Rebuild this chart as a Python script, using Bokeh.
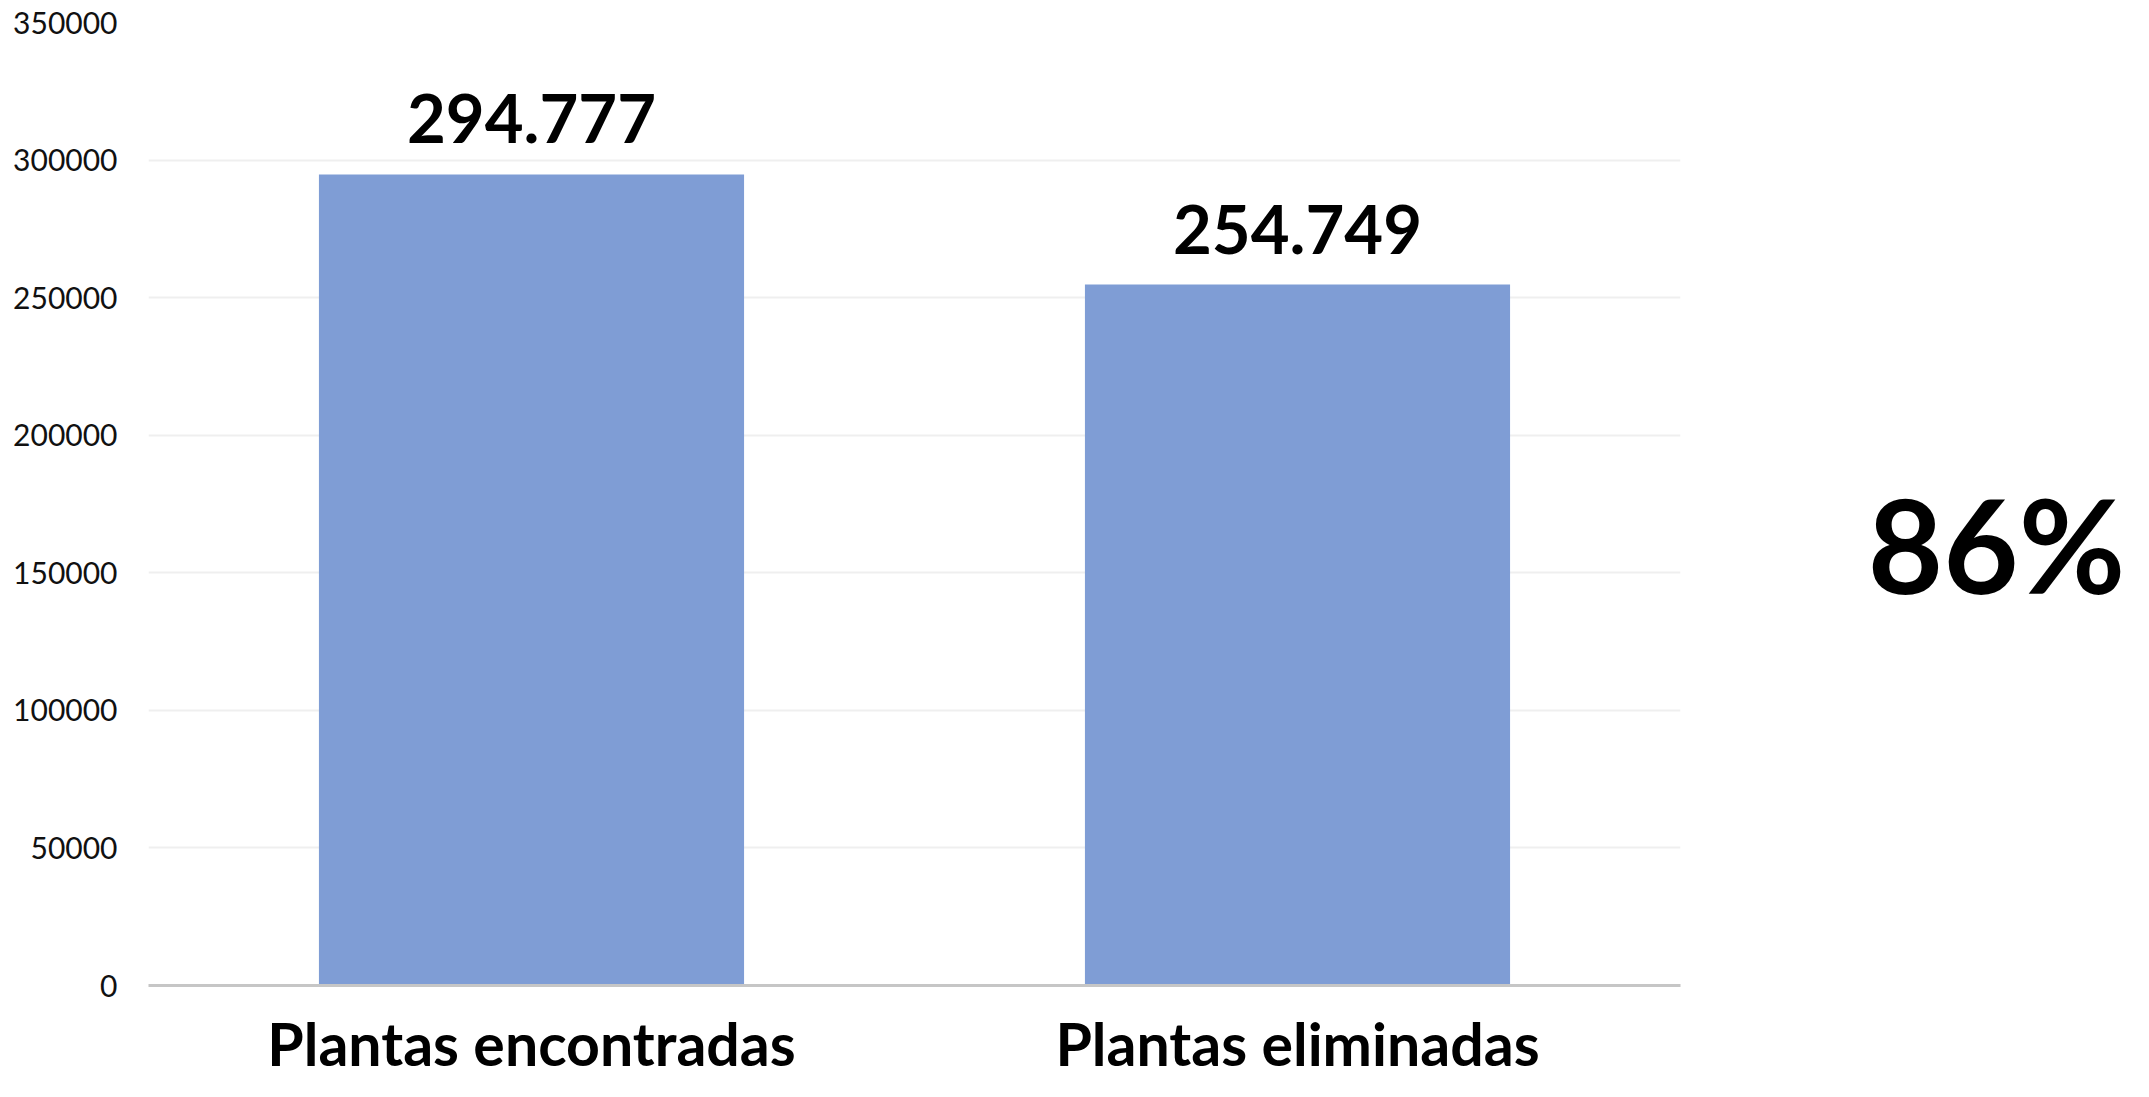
from bokeh.plotting import figure
from bokeh.layouts import row
from bokeh.models import (ColumnDataSource, Range1d, FactorRange, FixedTicker,
                          BasicTickFormatter, LabelSet)
from bokeh.core.properties import value
from bokeh.embed import file_html
from bokeh.resources import INLINE

categories = ["Plantas encontradas", "Plantas eliminadas"]
values = [294777, 254749]
value_labels = ["294.777", "254.749"]
y_ticks = [0, 50000, 100000, 150000, 200000, 250000, 300000, 350000]
ratio_text = ["86%"]

FONT = "Lato"
BAR_COLOR = "#7F9DD5"
H = 1081

src = ColumnDataSource(dict(cat=categories, val=values, lab=value_labels))

p = figure(x_range=FactorRange(*categories), y_range=Range1d(0, 350000),
           width=1682, height=H, output_backend="svg", toolbar_location=None,
           min_border_left=148, min_border_right=2, min_border_top=22,
           min_border_bottom=91)
p.outline_line_color = None
p.background_fill_color = "white"
p.border_fill_color = "white"

p.vbar(x="cat", top="val", width=0.555, source=src, fill_color=BAR_COLOR,
       line_color=None)

labels = LabelSet(x="cat", y="val", text="lab", source=src, y_offset=31,
                  text_align="center", text_baseline="alphabetic",
                  text_font=value(FONT), text_font_style="bold",
                  text_font_size="67px", text_color="black")
p.add_layout(labels)

# y axis
p.yaxis.ticker = FixedTicker(ticks=y_ticks)
p.yaxis.formatter = BasicTickFormatter(use_scientific=False)
p.yaxis.axis_line_color = None
p.yaxis.major_tick_line_color = None
p.yaxis.minor_tick_line_color = None
p.yaxis.major_label_text_font = FONT
p.yaxis.major_label_text_font_size = "30px"
p.yaxis.major_label_text_color = "#111111"
p.yaxis.major_label_standoff = 25

# x axis
p.xaxis.axis_line_color = "#c6c6c6"
p.xaxis.axis_line_width = 3
p.xaxis.major_tick_line_color = None
p.xaxis.minor_tick_line_color = None
p.xaxis.major_label_text_font = FONT
p.xaxis.major_label_text_font_style = "bold"
p.xaxis.major_label_text_font_size = "59px"
p.xaxis.major_label_text_color = "black"
p.xaxis.major_label_standoff = 16

p.xgrid.grid_line_color = None
p.ygrid.grid_line_color = "#efefef"
p.ygrid.grid_line_width = 2

# side panel with the percentage
p2 = figure(width=2133 - 1682, height=H, x_range=Range1d(0, 2133 - 1682),
            y_range=Range1d(0, H), output_backend="svg", toolbar_location=None,
            min_border=0)
p2.axis.visible = False
p2.grid.grid_line_color = None
p2.outline_line_color = None
p2.background_fill_color = "white"
p2.border_fill_color = "white"
p2.text(x=[314], y=[H - 585], text=ratio_text, text_align="center",
        text_baseline="alphabetic", text_font=value(FONT),
        text_font_style="bold", text_font_size="130px", text_color="black")

layout = row(p, p2, spacing=0)
open("out.html", "w").write(file_html(layout, INLINE))
